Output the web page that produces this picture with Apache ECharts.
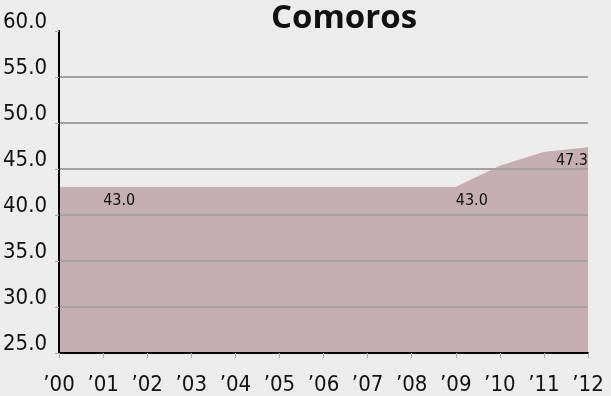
<!DOCTYPE html>
<html><head><meta charset="utf-8">
<script src="https://cdn.jsdelivr.net/npm/echarts@6/dist/echarts.min.js"></script>
<style>html,body{margin:0;padding:0;background:#ebeceb;}#c{width:611px;height:396px;}</style>
</head><body><div id="c"></div>
<script>
const title = "Comoros";
const categories = ["\u201900","\u201901","\u201902","\u201903","\u201904","\u201905","\u201906","\u201907","\u201908","\u201909","\u201910","\u201911","\u201912"];
const values = [43.0,43.0,43.0,43.0,43.0,43.0,43.0,43.0,43.0,43.0,45.3,46.8,47.3];
const labelIdx = [1, 9, 12];
const yTicks = [25,30,35,40,45,50,55,60];

const font = "'DejaVu Sans Condensed', sans-serif";
const data = values.map((v, i) => {
  const li = labelIdx.indexOf(i);
  if (li < 0) return v;
  return {value: v, label: {show: true, position: 'bottom', distance: 5,
    align: i === 12 ? 'right' : 'left', formatter: (p) => p.value.toFixed(1)}};
});
const grid = '#a5a29f';
const chart = echarts.init(document.getElementById('c'));
chart.setOption({
  backgroundColor: '#ebeceb',
  animation: false,
  title: {text: title, left: 339, textAlign: 'center', top: -3,
    textStyle: {fontFamily: "'Open Sans', sans-serif", fontWeight: 'bold', fontSize: 33, color: '#111'}},
  grid: {left: 58, right: 23, top: 31, bottom: 43},
  xAxis: {type: 'category', data: categories, boundaryGap: false, z: 5,
    axisLine: {lineStyle: {color: '#000', width: 2}},
    axisTick: {show: true, length: 5, lineStyle: {color: '#aaa'}},
    axisLabel: {margin: 21, fontFamily: font, fontSize: 22, color: '#111'}},
  yAxis: {type: 'value', min: 25, max: 60, interval: 5, z: 5,
    axisLine: {show: true, lineStyle: {color: '#000', width: 2}},
    axisTick: {show: true, length: 4, lineStyle: {color: '#aaa'}},
    splitLine: {show: true, lineStyle: {color: ['transparent', grid, grid, grid, grid, grid, grid, 'transparent'], width: 2}},
    axisLabel: {margin: 12, fontFamily: font, fontSize: 22, color: '#111', verticalAlign: 'bottom', lineHeight: 18,
      formatter: (v) => yTicks.includes(v) ? v.toFixed(1) : ''}},
  series: [{type: 'line', data: data, symbol: 'circle', symbolSize: 1, showSymbol: true, z: 2,
    itemStyle: {color: '#c4aeb1'},
    lineStyle: {color: '#c4aeb1', width: 1},
    areaStyle: {color: '#c4aeb1', opacity: 1},
    label: {fontFamily: font, fontSize: 16, color: '#111'}}]
});
</script></body></html>
